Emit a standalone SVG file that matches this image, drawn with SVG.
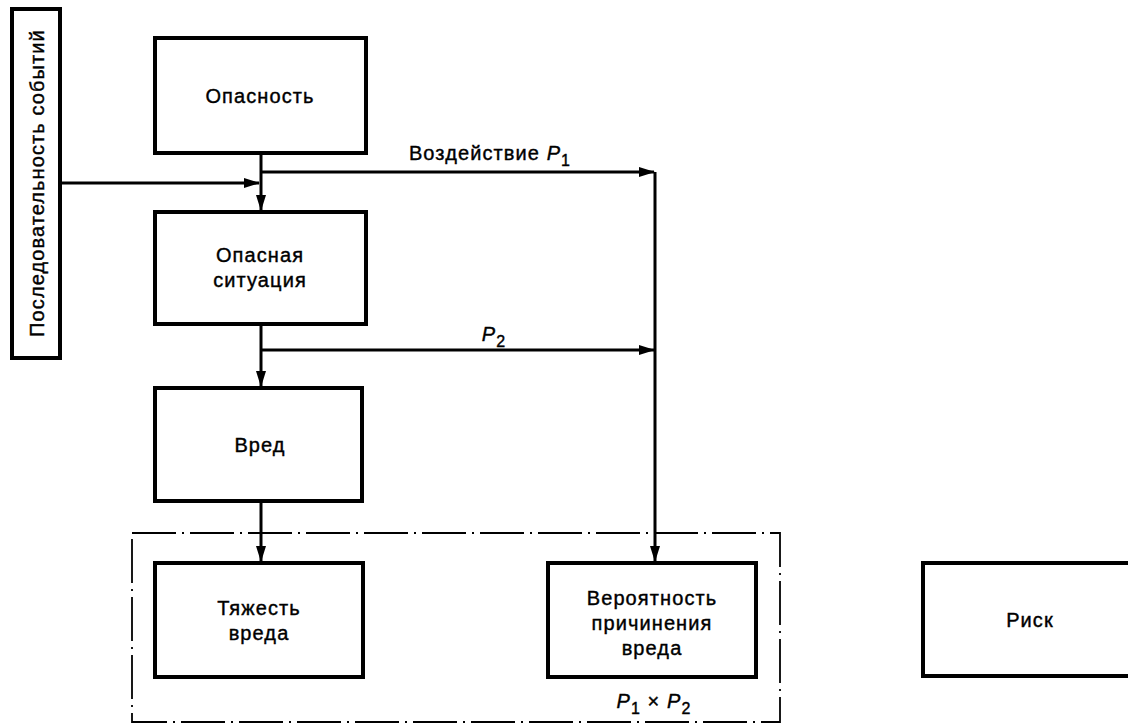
<svg xmlns="http://www.w3.org/2000/svg" width="1128" height="728" viewBox="0 0 1128 728">
<style>
.box{fill:#fff;stroke:#000;stroke-width:4}
.t{font-family:"Liberation Sans",Arial,sans-serif;font-size:20px;fill:#000;stroke:#000;stroke-width:0.4;text-anchor:middle;letter-spacing:1.1px}
.ln{stroke:#000;stroke-width:3;fill:none}
.dd{stroke:#000;stroke-width:1.8;fill:none;stroke-dasharray:44 6 2 6}
</style>
<defs>
<marker id="ar" markerWidth="16" markerHeight="10" refX="15" refY="5" orient="auto" markerUnits="userSpaceOnUse">
<path d="M0,0 L16,5 L0,10 Z" fill="#000"/>
</marker>
</defs>
<rect width="1128" height="728" fill="#fff"/>
<g id="connectors">
<line class="ln" x1="261" y1="153" x2="261" y2="210" marker-end="url(#ar)"/>
<line class="ln" x1="60" y1="183" x2="259" y2="183" marker-end="url(#ar)"/>
<line class="ln" x1="261" y1="172" x2="654" y2="172" marker-end="url(#ar)"/>
<line class="ln" x1="261" y1="325" x2="261" y2="386" marker-end="url(#ar)"/>
<line class="ln" x1="261" y1="350" x2="654" y2="350" marker-end="url(#ar)"/>
<line class="ln" x1="655" y1="172" x2="655" y2="561" marker-end="url(#ar)"/>
<line class="ln" x1="261" y1="501" x2="261" y2="561" marker-end="url(#ar)"/>
</g>
<g id="group-frame">
<rect class="dd" x="132" y="533" width="648" height="189"/>
</g>
<g id="seq">
<rect class="box" x="12" y="9" width="48" height="349"/>
<text class="t" transform="translate(44,183) rotate(-90)">Последовательность событий</text>
</g>
<g id="hazard">
<rect class="box" x="155" y="38" width="211" height="115"/>
<text class="t" x="260" y="103">Опасность</text>
</g>
<g id="situation">
<rect class="box" x="155" y="212" width="211" height="112"/>
<text class="t" x="260" y="262">Опасная</text>
<text class="t" x="260" y="287">ситуация</text>
</g>
<g id="harm">
<rect class="box" x="155" y="388" width="207" height="113"/>
<text class="t" x="260" y="452">Вред</text>
</g>
<g id="severity">
<rect class="box" x="155" y="563" width="208" height="114"/>
<text class="t" x="259" y="615">Тяжесть</text>
<text class="t" x="259" y="640">вреда</text>
</g>
<g id="probability">
<rect class="box" x="548" y="563" width="208" height="114"/>
<text class="t" x="652" y="605">Вероятность</text>
<text class="t" x="652" y="630">причинения</text>
<text class="t" x="652" y="655">вреда</text>
</g>
<g id="risk">
<rect class="box" x="923" y="563" width="214" height="113"/>
<text class="t" x="1030" y="627">Риск</text>
</g>
<g id="labels">
<text class="t" x="490" y="160">Воздействие <tspan font-style="italic">P</tspan><tspan font-size="16" dy="6">1</tspan></text>
<text class="t" x="494" y="341"><tspan font-style="italic">P</tspan><tspan font-size="16" dy="6">2</tspan></text>
<text class="t" x="654" y="708"><tspan font-style="italic">P</tspan><tspan font-size="16" dy="6">1</tspan><tspan dy="-6"> × </tspan><tspan font-style="italic">P</tspan><tspan font-size="16" dy="6">2</tspan></text>
</g>
</svg>
